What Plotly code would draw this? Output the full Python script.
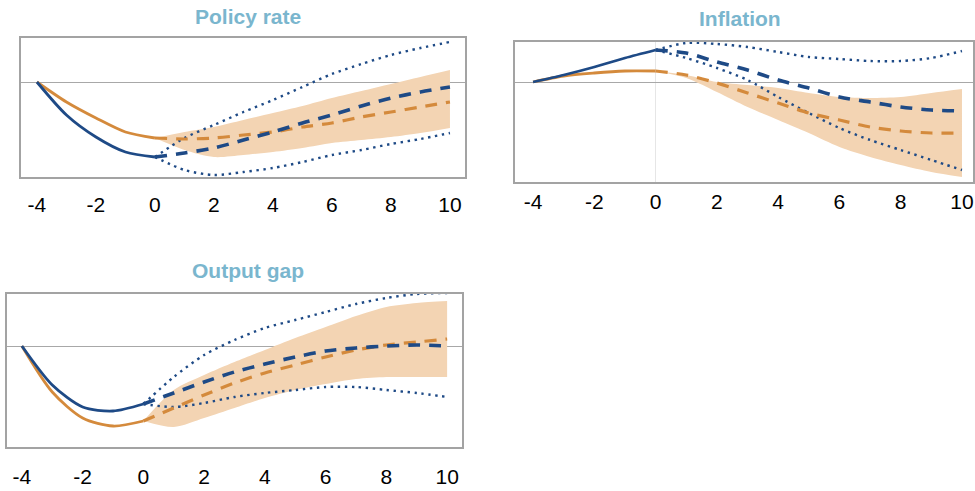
import plotly.graph_objects as go

# Quarters relative to the start of the projection
hist_q = [-4, -3, -2, -1, 0]
proj_q = [0, 1, 2, 3, 4, 5, 6, 7, 8, 9, 10]
tick_vals = [-4, -2, 0, 2, 4, 6, 8, 10]
tick_text = ["-4", "-2", "0", "2", "4", "6", "8", "10"]

# Policy rate
policy_hist_orange = [0.0, -0.40, -0.72, -1.00, -1.12]
policy_hist_blue = [0.0, -0.66, -1.10, -1.40, -1.50]
policy_proj_orange = [-1.12, -1.14, -1.12, -1.06, -1.00, -0.90, -0.82, -0.70, -0.60, -0.50, -0.40]
policy_proj_blue = [-1.50, -1.42, -1.32, -1.16, -1.00, -0.82, -0.66, -0.48, -0.32, -0.20, -0.10]
policy_band_low = [-1.12, -1.36, -1.50, -1.46, -1.40, -1.32, -1.22, -1.16, -1.10, -1.02, -0.92]
policy_band_high = [-1.12, -1.00, -0.90, -0.76, -0.62, -0.48, -0.32, -0.18, -0.04, 0.10, 0.24]
policy_dot_low = [-1.50, -1.76, -1.86, -1.80, -1.72, -1.60, -1.46, -1.36, -1.24, -1.14, -1.02]
policy_dot_high = [-1.50, -1.12, -0.86, -0.60, -0.36, -0.10, 0.16, 0.36, 0.54, 0.68, 0.80]

# Inflation
infl_hist_orange = [0.0, 0.12, 0.18, 0.22, 0.22]
infl_hist_blue = [0.0, 0.14, 0.30, 0.48, 0.64]
infl_proj_orange = [0.22, 0.14, -0.02, -0.22, -0.42, -0.62, -0.76, -0.90, -0.98, -1.02, -1.02]
infl_proj_blue = [0.64, 0.58, 0.40, 0.24, 0.04, -0.12, -0.30, -0.40, -0.50, -0.56, -0.58]
infl_band_low = [0.22, 0.08, -0.20, -0.50, -0.76, -1.02, -1.30, -1.50, -1.66, -1.80, -1.90]
infl_band_high = [0.22, 0.14, 0.00, -0.06, -0.12, -0.22, -0.30, -0.32, -0.30, -0.22, -0.14]
infl_dot_low = [0.64, 0.48, 0.28, 0.04, -0.30, -0.62, -0.92, -1.16, -1.36, -1.56, -1.76]
infl_dot_high = [0.64, 0.78, 0.76, 0.70, 0.60, 0.50, 0.46, 0.42, 0.42, 0.48, 0.62]

# Output gap
gap_hist_orange = [0.0, -1.84, -2.88, -3.20, -3.00]
gap_hist_blue = [0.0, -1.56, -2.44, -2.60, -2.32]
gap_proj_orange = [-3.00, -2.48, -1.96, -1.48, -1.08, -0.76, -0.44, -0.16, 0.04, 0.16, 0.28]
gap_proj_blue = [-2.32, -1.88, -1.44, -1.04, -0.72, -0.44, -0.20, -0.08, 0.00, 0.04, 0.00]
gap_band_low = [-3.00, -3.24, -2.88, -2.48, -2.08, -1.76, -1.52, -1.32, -1.24, -1.24, -1.24]
gap_band_high = [-3.00, -1.76, -1.16, -0.64, -0.16, 0.32, 0.76, 1.20, 1.56, 1.72, 1.80]
gap_dot_low = [-2.32, -2.44, -2.28, -2.04, -1.88, -1.76, -1.64, -1.64, -1.76, -1.88, -2.04]
gap_dot_high = [-2.32, -1.24, -0.36, 0.24, 0.72, 1.04, 1.36, 1.68, 1.92, 2.08, 2.12]

BLUE = "#1E4A86"
ORANGE = "#D48A3C"
BAND = "#F3D4B3"
TITLE = "#7AB6CE"
FRAME = "#A3A3A3"
FONT = "Liberation Sans, Arial"

W, H = 975, 491

panels = [
    dict(title="Policy rate", box=(21, 465, 38, 177), xr=[-4.54, 10.51], yr=[-1.90, 0.88],
         title_xy=(248, 17), ticklen=8, vline=False,
         ho=policy_hist_orange, hb=policy_hist_blue, po=policy_proj_orange, pb=policy_proj_blue,
         bl=policy_band_low, bh=policy_band_high, dl=policy_dot_low, dh=policy_dot_high),
    dict(title="Inflation", box=(515, 973, 42, 182), xr=[-4.59, 10.36], yr=[-2.00, 0.80],
         title_xy=(740, 18), ticklen=0, vline=True,
         ho=infl_hist_orange, hb=infl_hist_blue, po=infl_proj_orange, pb=infl_proj_blue,
         bl=infl_band_low, bh=infl_band_high, dl=infl_dot_low, dh=infl_dot_high),
    dict(title="Output gap", box=(7, 462, 294, 447), xr=[-4.49, 10.49], yr=[-4.04, 2.08],
         title_xy=(248, 270), ticklen=10, vline=False,
         ho=gap_hist_orange, hb=gap_hist_blue, po=gap_proj_orange, pb=gap_proj_blue,
         bl=gap_band_low, bh=gap_band_high, dl=gap_dot_low, dh=gap_dot_high),
]

fig = go.Figure()
layout = dict(
    width=W, height=H,
    margin=dict(l=0, r=0, t=0, b=0),
    paper_bgcolor="white", plot_bgcolor="white",
    showlegend=False,
    annotations=[],
)

for i, p in enumerate(panels, start=1):
    xa = "x" if i == 1 else f"x{i}"
    ya = "y" if i == 1 else f"y{i}"

    def add(x, y, line, **kw):
        line = dict(line, shape="spline", smoothing=0.8)
        fig.add_trace(go.Scatter(x=x, y=y, xaxis=xa, yaxis=ya, mode="lines",
                                 line=line, hoverinfo="skip", **kw))

    # uncertainty band
    add(proj_q, p["bl"], dict(width=0, color=BAND))
    add(proj_q, p["bh"], dict(width=0, color=BAND), fill="tonexty", fillcolor=BAND)
    # dotted range
    add(proj_q, p["dl"], dict(color=BLUE, width=2.4, dash="2.4px,4.6px"))
    add(proj_q, p["dh"], dict(color=BLUE, width=2.4, dash="2.4px,4.6px"))
    # projections
    add(proj_q, p["po"], dict(color=ORANGE, width=3.2, dash="12px,9px"))
    add(proj_q, p["pb"], dict(color=BLUE, width=3.6, dash="12px,9px"))
    # history
    add(hist_q, p["ho"], dict(color=ORANGE, width=2.8))
    add(hist_q, p["hb"], dict(color=BLUE, width=2.8))

    x0, x1, y0, y1 = p["box"]
    layout["xaxis" if i == 1 else f"xaxis{i}"] = dict(
        domain=[x0 / W, x1 / W], range=p["xr"], anchor=ya,
        tickmode="array", tickvals=tick_vals, ticktext=tick_text,
        ticks="outside" if p["ticklen"] else "", ticklen=p["ticklen"],
        tickcolor="rgba(0,0,0,0)",
        tickfont=dict(family=FONT, size=21, color="#000000"),
        showgrid=False, showline=True, linecolor=FRAME, linewidth=1.5, mirror=True,
        zeroline=p["vline"], zerolinecolor="#E6E6E6", zerolinewidth=1,
        fixedrange=True,
    )
    layout["yaxis" if i == 1 else f"yaxis{i}"] = dict(
        domain=[1 - y1 / H, 1 - y0 / H], range=p["yr"], anchor=xa,
        showticklabels=False, ticks="", showgrid=False,
        showline=True, linecolor=FRAME, linewidth=1.5, mirror=True,
        zeroline=True, zerolinecolor="#A8A8A8", zerolinewidth=1,
        fixedrange=True,
    )
    tx, ty = p["title_xy"]
    layout["annotations"].append(dict(
        text=f"<b>{p['title']}</b>", xref="paper", yref="paper",
        x=tx / W, y=1 - ty / H, xanchor="center", yanchor="middle",
        showarrow=False,
        font=dict(family=FONT, size=21, color=TITLE),
    ))

fig.update_layout(**layout)
fig.write_html("out.html")
